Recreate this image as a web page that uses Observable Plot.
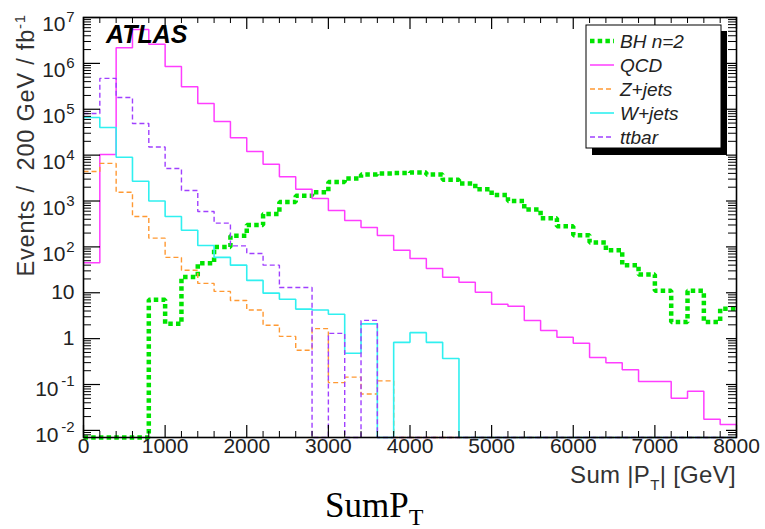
<!DOCTYPE html>
<html><head><meta charset="utf-8">
<script src="https://cdn.jsdelivr.net/npm/d3@7"></script>
<script src="https://cdn.jsdelivr.net/npm/@observablehq/plot@0.6"></script>
<style>body{margin:0;background:#fff;} svg{display:block}</style>
</head><body><div id="chart"></div>
<script>
// ---- data (events / 200 GeV / fb^-1, per 200 GeV bin) ----
const binWidth = 200;
const binLow = [0,200,400,600,800,1000,1200,1400,1600,1800,2000,2200,2400,2600,2800,3000,3200,3400,3600,3800,
                4000,4200,4400,4600,4800,5000,5200,5400,5600,5800,6000,6200,6400,6600,6800,7000,7200,7400,7600,7800];
const bhN2 = [0,0,0,0,7,2.1,22,44,100,175,300,520,950,1300,1550,2600,3100,3800,4000,4100,
              4200,3800,2900,2400,1800,1350,1000,650,420,280,180,125,84,40,25,11,2.3,11,2.3,4.5];
const qcd = [45,1.03e4,2.2e6,5.5e6,2.6e6,8.6e5,3.1e5,1.34e5,5.4e4,2.4e4,1.2e4,6.3e3,3.4e3,1.8e3,1.14e3,624,378,266,178,84,
             56,34,21.7,16.9,10.2,5.6,5.1,2.5,1.5,1.07,0.79,0.39,0.30,0.21,0.117,0.117,0.050,0.071,0.0174,0.0135];
const zJets = [4.4e3,6.6e3,1.55e3,460,155,59,31,16,10.7,6.8,4.2,1.96,1.12,0.56,1.65,0.11,0.145,0.062,0.12,0,
               0,0,0,0,0,0,0,0,0,0,0,0,0,0,0,0,0,0,0,0];
const wJets = [6.6e4,4.0e4,9.0e3,2.7e3,1.0e3,460,230,107,59,40,18.6,9.8,7.2,4.4,4.2,3.4,0.48,2.1,0,0.83,
               1.35,0.83,0.37,0,0,0,0,0,0,0,0,0,0,0,0,0,0,0,0,0];
const ttbar = [8.1e4,4.7e5,1.8e5,4.9e4,1.5e4,5.1e3,1.7e3,590,330,105,72,40,13,13,0,1.3,0,2.5,0,0,
               0,0,0,0,0,0,0,0,0,0,0,0,0,0,0,0,0,0,0,0];
const seriesNames = ["BH n=2","QCD","Z+jets","W+jets","ttbar"];
const seriesColors = ["#00e400","#ff3dff","#ff9933","#30f0f0","#a040ff"];
const seriesDash = ["4.5,3.2","none","5,3","none","5,3"];
const seriesWidth = [4.5,1.5,1.4,1.6,1.4];
const xTickValues = [0,1000,2000,3000,4000,5000,6000,7000,8000];
const yTickValues = [0.01,0.1,1,10,100,1e3,1e4,1e5,1e6,1e7];
const yExponents = [-2,-1,0,1,2,3,4,5,6,7];

// ---- layout ----
const W = 765, H = 529, mL = 83, mR = 29, mT = 17, mB = 92;
const pw = W - mL - mR, ph = H - mT - mB;
const yMin = 0.007, yMax = 1e7;

function steps(vals, name) {
  const pts = vals.map((v, i) => ({x: binLow[i], y: Math.max(v, yMin), s: name}));
  pts.push({x: binLow[binLow.length - 1] + binWidth, y: Math.max(vals[vals.length - 1], yMin), s: name});
  return pts;
}
const allSeries = [bhN2, qcd, zJets, wJets, ttbar];

const yMinor = [];
for (let k = -3; k <= 6; k++) for (let m = 2; m <= 9; m++) { const v = m * Math.pow(10, k); if (v >= yMin && v <= yMax) yMinor.push(+v.toPrecision(3)); }
const xMinor = d3.range(0, 8001, 200).filter(v => v % 1000 !== 0);

const lineMarks = allSeries.map((vals, i) => Plot.line(steps(vals, seriesNames[i]), {
  x: "x", y: "y", curve: "step-after", stroke: seriesColors[i], strokeWidth: seriesWidth[i],
  strokeDasharray: seriesDash[i], strokeLinecap: "butt", strokeLinejoin: "miter"
}));

const tickFont = "Liberation Sans, Arial, sans-serif";
const plain = yTickValues.filter((d, i) => yExponents[i] === 0 || yExponents[i] === 1);
const posExp = yTickValues.filter((d, i) => yExponents[i] >= 2);
const negExp = yTickValues.filter((d, i) => yExponents[i] < 0);
const expOf = d => yExponents[yTickValues.indexOf(d)];

const chart = Plot.plot({
  width: W, height: H, marginLeft: mL, marginRight: mR, marginTop: mT, marginBottom: mB,
  style: {fontFamily: tickFont, background: "white"},
  x: {domain: [0, 8000], axis: null},
  y: {type: "log", domain: [yMin, yMax], axis: null},
  marks: [
    ...lineMarks,
    Plot.tickY(yTickValues, {y: d => d, stroke: "black", strokeWidth: 1.2, insetRight: pw - 17}),
    Plot.tickY(yTickValues, {y: d => d, stroke: "black", strokeWidth: 1.2, insetLeft: pw - 10}),
    Plot.tickY(yMinor, {y: d => d, stroke: "black", strokeWidth: 1, insetRight: pw - 8}),
    Plot.tickY(yMinor, {y: d => d, stroke: "black", strokeWidth: 1, insetLeft: pw - 8}),
    Plot.tickX(xTickValues, {x: d => d, stroke: "black", strokeWidth: 1.2, insetTop: ph - 12}),
    Plot.tickX(xTickValues, {x: d => d, stroke: "black", strokeWidth: 1.2, insetBottom: ph - 12}),
    Plot.tickX(xMinor, {x: d => d, stroke: "black", strokeWidth: 1, insetTop: ph - 6}),
    Plot.tickX(xMinor, {x: d => d, stroke: "black", strokeWidth: 1, insetBottom: ph - 6}),
    Plot.frame({stroke: "black", strokeWidth: 1.6}),
    // y tick labels
    Plot.text(plain, {y: d => d, text: d => String(d), frameAnchor: "left", textAnchor: "end", dx: -9, fontSize: 21, fill: "#222"}),
    Plot.text(posExp, {y: d => d, text: () => "10", frameAnchor: "left", textAnchor: "end", dx: -18, dy: 7, fontSize: 21, fill: "#222"}),
    Plot.text(posExp, {y: d => d, text: d => String(expOf(d)), frameAnchor: "left", textAnchor: "end", dx: -9, dy: 0, fontSize: 15, fill: "#222"}),
    Plot.text(negExp, {y: d => d, text: () => "10", frameAnchor: "left", textAnchor: "end", dx: -25, dy: 5, fontSize: 21, fill: "#222"}),
    Plot.text(negExp, {y: d => d, text: d => String(expOf(d)), frameAnchor: "left", textAnchor: "end", dx: -9, dy: -3, fontSize: 15, fill: "#222"}),
    // x tick labels
    Plot.text(xTickValues, {x: d => d, text: d => String(d), frameAnchor: "bottom", dy: 15, fontSize: 21, fill: "#222"})
  ]
});
document.getElementById("chart").appendChild(chart);

// ---- titles, legend, caption ----
const svg = d3.select(chart);
// y-axis title
const yt = svg.append("text")
  .attr("transform", "translate(34,14) rotate(-90)")
  .attr("text-anchor", "end")
  .attr("font-family", tickFont).attr("font-size", 23.5).attr("letter-spacing", 0.8).attr("fill", "#333");
yt.append("tspan").text("Events /  200 GeV / fb");
yt.append("tspan").attr("dy", -9).attr("font-size", 15).text("-1");
// x-axis title
const xt = svg.append("text")
  .attr("x", 736).attr("y", 483).attr("text-anchor", "end")
  .attr("font-family", tickFont).attr("font-size", 24).attr("letter-spacing", 0.3).attr("fill", "#333");
xt.append("tspan").text("Sum |P");
xt.append("tspan").attr("dy", 7).attr("font-size", 15).text("T");
xt.append("tspan").attr("dy", -7).text("| [GeV]");
// ATLAS label
svg.append("text").attr("x", 106).attr("y", 43).attr("text-anchor", "start")
  .attr("font-family", tickFont).attr("font-size", 25).attr("font-weight", "bold").attr("font-style", "italic")
  .attr("fill", "black").text("ATLAS");
// legend
const lg = svg.append("g");
lg.append("rect").attr("x", 592).attr("y", 31).attr("width", 135).attr("height", 124).attr("fill", "black");
lg.append("rect").attr("x", 586).attr("y", 25).attr("width", 135).attr("height", 123).attr("fill", "white").attr("stroke", "black").attr("stroke-width", 1);
seriesNames.forEach((name, i) => {
  const cy = 41 + i * 24;
  lg.append("line").attr("x1", 590).attr("x2", 614).attr("y1", cy).attr("y2", cy)
    .attr("stroke", seriesColors[i]).attr("stroke-width", i === 0 ? 4.5 : seriesWidth[i])
    .attr("stroke-dasharray", seriesDash[i] === "none" ? null : seriesDash[i]);
  lg.append("text").attr("x", 620).attr("y", cy + 7).attr("text-anchor", "start")
    .attr("font-family", tickFont).attr("font-size", 19).attr("font-style", "italic").attr("fill", "#222")
    .text(name);
});
// caption
const cap = svg.append("text").attr("x", 325).attr("y", 517).attr("text-anchor", "start")
  .attr("font-family", "Liberation Serif, Times New Roman, serif").attr("font-size", 35).attr("fill", "black");
cap.append("tspan").text("SumP");
cap.append("tspan").attr("dy", 8).attr("font-size", 24).text("T");
</script>
</body></html>
